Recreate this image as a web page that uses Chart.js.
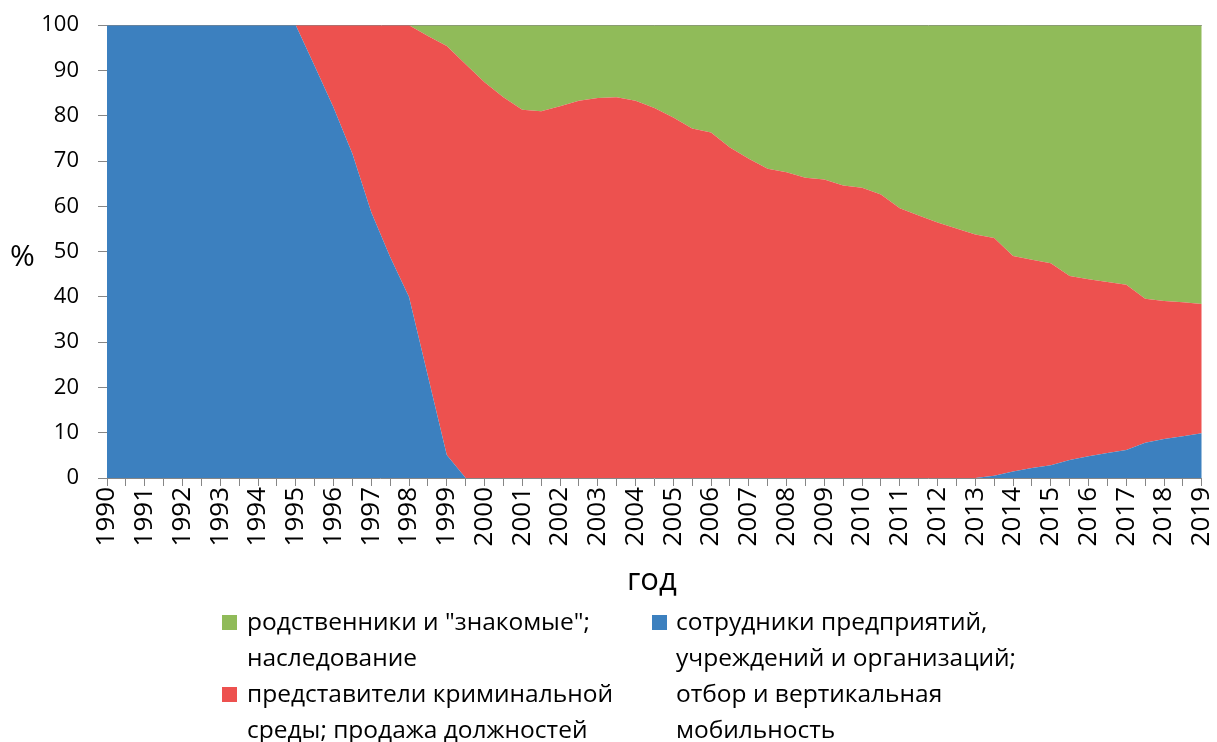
<!DOCTYPE html>
<html>
<head>
<meta charset="utf-8">
<script src="https://cdn.jsdelivr.net/npm/chart.js@4/dist/chart.umd.min.js"></script>
<style>
  body { margin: 0; background: #fff; }
  #wrap { position: relative; width: 1217px; height: 742px; overflow: hidden; font-family: "Open Sans", sans-serif; color: #000; }
  #myChart { position: absolute; left: 0; top: -7px; }
  .txt { position: absolute; white-space: nowrap; }
  .sw { position: absolute; width: 15px; height: 15px; }
  .leg { position: absolute; font-size: 24.5px; line-height: 36px; white-space: nowrap; }
</style>
</head>
<body>
<div id="wrap">
  <canvas id="myChart" width="1234" height="749"></canvas>
  <div class="txt" style="left:10px; top:234px; font-size:30px;">%</div>
  <div class="txt" style="left:627px; top:557px; font-size:31px;">год</div>

  <div class="sw" style="left:222px; top:615px; background:#90bb59;"></div>
  <div class="leg" style="left:247px; top:603px;">родственники и "знакомые";<br>наследование</div>
  <div class="sw" style="left:222px; top:687px; background:#ed514f;"></div>
  <div class="leg" style="left:247px; top:675px;">представители криминальной<br>среды; продажа должностей</div>
  <div class="sw" style="left:652px; top:615px; background:#3c80bf;"></div>
  <div class="leg" style="left:676px; top:603px;">сотрудники предприятий,<br>учреждений и организаций;<br>отбор и вертикальная<br>мобильность</div>
</div>
<script>
// полугодия 1990 - 2019
var periods = [1990, 1990.5, 1991, 1991.5, 1992, 1992.5, 1993, 1993.5, 1994, 1994.5,
    1995, 1995.5, 1996, 1996.5, 1997, 1997.5, 1998, 1998.5, 1999, 1999.5,
    2000, 2000.5, 2001, 2001.5, 2002, 2002.5, 2003, 2003.5, 2004, 2004.5,
    2005, 2005.5, 2006, 2006.5, 2007, 2007.5, 2008, 2008.5, 2009, 2009.5,
    2010, 2010.5, 2011, 2011.5, 2012, 2012.5, 2013, 2013.5, 2014, 2014.5,
    2015, 2015.5, 2016, 2016.5, 2017, 2017.5, 2018, 2018.5, 2019];

// сотрудники предприятий (синий)
var staff = [100, 100, 100, 100, 100, 100, 100, 100, 100, 100,
    100, 91, 81.8, 71.6, 58.7, 48.8, 40, 22.5, 5.1, 0,
    0, 0, 0, 0, 0, 0, 0, 0, 0, 0,
    0, 0, 0, 0, 0, 0, 0, 0, 0, 0,
    0, 0, 0, 0, 0, 0, 0, 0.5, 1.45, 2.2,
    2.8, 4.0, 4.8, 5.5, 6.2, 7.8, 8.6, 9.2, 9.9];

// криминальная среда (красный)
var criminal = [0, 0, 0, 0, 0, 0, 0, 0, 0, 0,
    0, 9, 18.2, 28.4, 41.3, 51.2, 60, 75.1, 90.3, 91.4,
    87.4, 84.1, 81.3, 81.0, 82.1, 83.3, 83.9, 84.1, 83.3, 81.7,
    79.6, 77.2, 76.3, 73.0, 70.5, 68.3, 67.5, 66.3, 65.9, 64.6,
    64.1, 62.6, 59.6, 58.0, 56.4, 55.1, 53.8, 52.5, 47.6, 46.0,
    44.6, 40.6, 39.1, 37.8, 36.5, 31.8, 30.5, 29.6, 28.5];

// родственники и знакомые (зеленый)
var relatives = [0, 0, 0, 0, 0, 0, 0, 0, 0, 0,
    0, 0, 0, 0, 0, 0, 0, 2.4, 4.6, 8.6,
    12.6, 15.9, 18.7, 19.0, 17.9, 16.7, 16.1, 15.9, 16.7, 18.3,
    20.4, 22.8, 23.7, 27.0, 29.5, 31.7, 32.5, 33.7, 34.1, 35.4,
    35.9, 37.4, 40.4, 42.0, 43.6, 44.9, 46.2, 47.0, 51.0, 51.8,
    52.6, 55.4, 56.1, 56.7, 57.3, 60.4, 60.9, 61.2, 61.6];

var yTicks = [0, 10, 20, 30, 40, 50, 60, 70, 80, 90, 100];

var axisGray = '#868686';

var ctx = document.getElementById('myChart').getContext('2d');

var chart = new Chart(ctx, {
    type: 'line',
    data: {
        labels: periods,
        datasets: [{
            label: 'сотрудники предприятий, учреждений и организаций; отбор и вертикальная мобильность',
            data: staff,
            backgroundColor: '#3c80bf',
            borderWidth: 0,
            fill: 'origin'
        }, {
            label: 'представители криминальной среды; продажа должностей',
            data: criminal,
            backgroundColor: '#ed514f',
            borderWidth: 0,
            fill: '-1'
        }, {
            label: 'родственники и "знакомые"; наследование',
            data: relatives,
            backgroundColor: '#90bb59',
            borderWidth: 0,
            fill: '-1'
        }]
    },
    options: {
        responsive: false,
        animation: false,
        elements: { point: { radius: 0 }, line: { tension: 0 } },
        layout: { padding: { left: 0, top: 17, right: 0, bottom: 0 } },
        plugins: { legend: { display: false }, tooltip: { enabled: false } },
        scales: {
            x: {
                offset: false,
                afterFit: function (scale) { scale.height = 749 - 485; },
                border: { color: axisGray, width: 1 },
                grid: { drawOnChartArea: false, color: axisGray, tickLength: 8 },
                ticks: {
                    autoSkip: false,
                    maxRotation: 90,
                    minRotation: 90,
                    padding: 1,
                    color: '#000',
                    font: { family: 'Open Sans', size: 26 },
                    callback: function (val, i) {
                        var p = periods[i];
                        return Number.isInteger(p) ? String(p) : '';
                    }
                }
            },
            y: {
                stacked: true,
                min: 0,
                max: 100,
                afterFit: function (scale) { scale.width = 107; },
                afterBuildTicks: function (scale) {
                    scale.ticks = yTicks.map(function (v) { return { value: v }; });
                },
                border: { color: axisGray, width: 1 },
                grid: {
                    drawOnChartArea: true,
                    tickLength: 9,
                    tickColor: axisGray,
                    color: function (c) { return c.tick && c.tick.value === 100 ? axisGray : 'rgba(0,0,0,0)'; }
                },
                ticks: {
                    padding: 19,
                    color: '#000',
                    font: { family: 'Open Sans', size: 22 }
                }
            }
        }
    }
});
</script>
</body>
</html>
